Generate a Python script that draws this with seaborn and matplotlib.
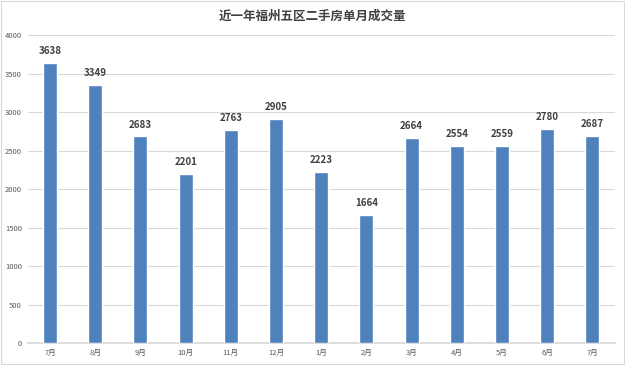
import pandas as pd
import matplotlib.pyplot as plt
import seaborn as sns

months = ['7月', '8月', '9月', '10月', '11月', '12月', '1月', '2月', '3月', '4月', '5月', '6月', '7月']
volumes = [3638, 3349, 2683, 2201, 2763, 2905, 2223, 1664, 2664, 2554, 2559, 2780, 2687]
title = '近一年福州五区二手房单月成交量'

sns.set_theme(style='white')
plt.rcParams['font.family'] = ['Noto Sans CJK SC', 'DejaVu Sans']


def draw_chart():
    df = pd.DataFrame({'idx': range(len(months)), 'month': months, 'volume': volumes})

    fig = plt.figure(figsize=(6.25, 3.65), dpi=100)
    ax = fig.add_axes([0.044, 0.060, 0.940, 0.844])

    sns.barplot(data=df, x='idx', y='volume', color='#4F81BD', width=0.31,
                saturation=1, ax=ax, zorder=3)

    ax.set_ylim(0, 4000)
    ax.set_yticks(range(0, 4001, 500))
    ax.yaxis.grid(True, color='#d9d9d9', linewidth=0.8, zorder=0)
    ax.set_xticks(range(len(months)))
    ax.set_xticklabels(months)
    ax.tick_params(axis='both', labelsize=5.5, colors='#595959', length=0, pad=4)
    ax.set_xlabel('')
    ax.set_ylabel('')
    for s in ax.spines.values():
        s.set_visible(False)
    ax.spines['bottom'].set_visible(True)
    ax.spines['bottom'].set_color('#d9d9d9')

    for i, v in enumerate(volumes):
        ax.text(i, v + 90, str(v), ha='center', va='bottom', fontsize=7,
                fontweight='bold', color='#404040')

    fig.text(0.5, 0.955, title, ha='center', va='center', fontsize=9,
             fontweight='bold', color='#404040')

    fig.patches.append(plt.Rectangle((0.002, 0.003), 0.996, 0.994, transform=fig.transFigure,
                                     fill=False, edgecolor='#d9d9d9', linewidth=0.8))

    fig.savefig('out.png', dpi=100)


if __name__ == '__main__':
    draw_chart()
